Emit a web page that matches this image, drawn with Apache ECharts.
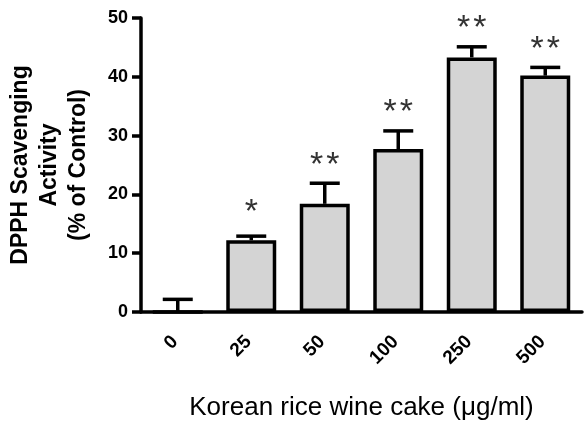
<!DOCTYPE html>
<html><head><meta charset="utf-8">
<script src="https://cdn.jsdelivr.net/npm/echarts@6/dist/echarts.min.js"></script>
<style>html,body{margin:0;padding:0;background:#fff}#c{width:586px;height:422px}</style>
</head><body><div id="c"></div>
<script>
const categories = ['0', '25', '50', '100', '250', '500'];
const means = [0, 12.2, 18.4, 27.7, 43.3, 40.2];
const errors = [2.15, 0.7, 3.5, 3.1, 1.8, 1.4];
const stars = ['', '*', '**', '**', '**', '**'];
const yTicks = [0, 10, 20, 30, 40, 50];

const font = 'Arial, "Liberation Sans", sans-serif';
const chart = echarts.init(document.getElementById('c'));
const errData = categories.map((c, i) => [i, means[i], means[i] + errors[i], stars[i]]);

chart.setOption({
  animation: false,
  grid: { left: 141, right: 4, top: 18, bottom: 110, containLabel: false, outerBoundsMode: 'none' },
  xAxis: {
    type: 'category', data: categories,
    axisLine: { lineStyle: { color: '#000', width: 3.5 } },
    axisTick: { alignWithLabel: true, length: 9, lineStyle: { color: '#000', width: 3.5 } },
    axisLabel: { rotate: 45, fontFamily: font, fontWeight: 'bold', fontSize: 19, color: '#000', margin: 24, padding: [0, 4, 0, 0] },
    name: 'Korean rice wine cake (\u03bcg/ml)', nameLocation: 'middle', nameGap: 83,
    nameTextStyle: { fontFamily: font, fontSize: 26, color: '#000' }
  },
  yAxis: {
    type: 'value', min: yTicks[0], max: yTicks[yTicks.length - 1], interval: 10,
    splitLine: { show: false },
    axisLine: { show: true, lineStyle: { color: '#000', width: 3.5 } },
    axisTick: { show: true, length: 9, lineStyle: { color: '#000', width: 3.5 } },
    axisLabel: { fontFamily: font, fontWeight: 'bold', fontSize: 18, color: '#000', margin: 13 },
    name: 'DPPH Scavenging\nActivity\n(% of Control)', nameLocation: 'middle', nameGap: 48, nameRotate: 90,
    nameTextStyle: { fontFamily: font, fontWeight: 'bold', fontSize: 23, color: '#000', lineHeight: 29 }
  },
  series: [
    {
      type: 'bar', data: means, barWidth: '68%',
      itemStyle: { color: '#d4d4d4', borderColor: '#000', borderWidth: 3.5 }
    },
    {
      type: 'custom', data: errData, z: 5,
      renderItem: function (params, api) {
        const x = api.value(0);
        const lo = api.coord([x, api.value(1)]);
        const hi = api.coord([x, api.value(2)]);
        const hw = 15;
        const s = api.value(3);
        const children = [
          { type: 'line', shape: { x1: lo[0], y1: lo[1], x2: hi[0], y2: hi[1] }, style: { stroke: '#000', lineWidth: 3.5 } },
          { type: 'line', shape: { x1: hi[0] - hw, y1: hi[1], x2: hi[0] + hw, y2: hi[1] }, style: { stroke: '#000', lineWidth: 3.5 } }
        ];
        if (s) {
          const lift = s.length === 1 ? 6 : 0;
          children.push({ type: 'text', style: { text: s.split('').join('\u200a'), x: hi[0], y: hi[1] - 1 - lift, align: 'center', verticalAlign: 'bottom',
            font: '34px ' + font, fill: '#333' } });
        }
        return { type: 'group', children: children };
      }
    }
  ]
});
</script></body></html>
